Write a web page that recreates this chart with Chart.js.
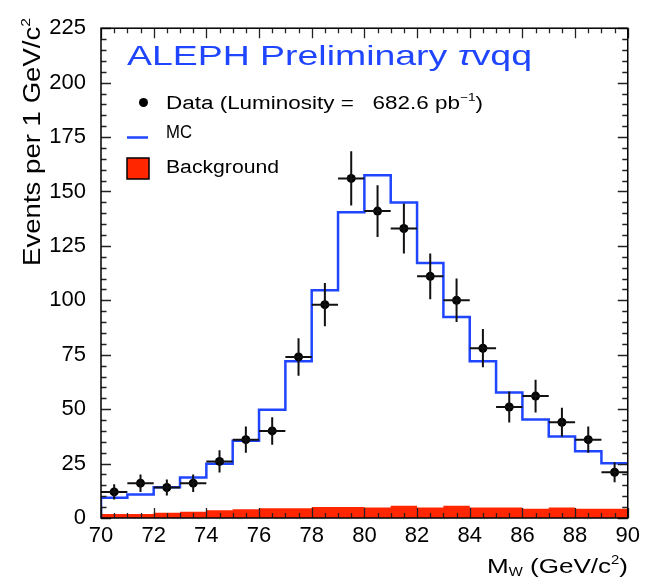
<!DOCTYPE html>
<html>
<head>
<meta charset="utf-8">
<title>ALEPH Preliminary τvqq</title>
<script src="https://cdn.jsdelivr.net/npm/chart.js@4.4.1/dist/chart.umd.min.js"></script>
<style>
  html, body { margin: 0; padding: 0; background: #ffffff; }
  #massChart { display: block; }
</style>
</head>
<body>
<canvas id="massChart" width="645" height="584"></canvas>
<script>
// bin centres (1 GeV/c^2 bins from 70 to 90)
const massBins = [70.5, 71.5, 72.5, 73.5, 74.5, 75.5, 76.5, 77.5, 78.5, 79.5,
                  80.5, 81.5, 82.5, 83.5, 84.5, 85.5, 86.5, 87.5, 88.5, 89.5];
const dataCounts = [12, 16, 14, 16, 26, 36, 40, 74, 98, 156,
                    141, 133, 111, 100, 78, 51, 56, 44, 36, 21];
const dataErrors = [3.5, 4, 3.7, 4, 5.1, 6, 6.3, 8.6, 9.9, 12.5,
                    11.9, 11.5, 10.5, 10, 8.8, 7.1, 7.5, 6.6, 6, 4.6];
const mcCounts = [9.3, 10.8, 14.1, 18.6, 24.9, 35.5, 49.7, 72, 104.6, 140.4,
                  157.4, 144.9, 117.1, 92.3, 72, 57.7, 45.2, 37.4, 30.7, 25.1];
const bkgCounts = [1.8, 1.8, 2.4, 2.9, 3.6, 4.0, 4.5, 4.5, 5.0, 5.0,
                   4.8, 5.6, 4.8, 5.6, 4.8, 4.8, 4.2, 4.8, 4.2, 4.2];
const binWidth = 1;
const xRange = [70, 90];
const yRange = [0, 225];

const FONT = "'Liberation Sans', Arial, sans-serif";
const BLUE = "#1f45ff";
const RED = "#ff2600";

// step outline: point at each upper bin edge; "after" steps rise at the lower edge
function stepPoints(values, startAtZero) {
  const pts = [{ x: massBins[0] - binWidth / 2, y: startAtZero ? 0 : values[0] }];
  values.forEach((v, i) => pts.push({ x: massBins[i] + binWidth / 2, y: v }));
  return pts;
}

// draws a run of text pieces, squeezed/stretched to a given width
function drawPieces(ctx, pieces, x, y, width) {
  let natural = 0;
  pieces.forEach(p => {
    ctx.font = p.font;
    p.w = ctx.measureText(p.text).width;
    natural += p.w;
  });
  const sx = width ? width / natural : 1;
  ctx.save();
  ctx.translate(x, y);
  ctx.scale(sx, 1);
  ctx.textBaseline = "alphabetic";
  ctx.textAlign = "left";
  let cx = 0;
  pieces.forEach(p => {
    ctx.font = p.font;
    ctx.fillText(p.text, cx, p.dy || 0);
    cx += p.w;
  });
  ctx.restore();
}

const errorBars = {
  id: "errorBars",
  afterDatasetsDraw(chart) {
    const { ctx, scales: { x, y } } = chart;
    ctx.save();
    ctx.strokeStyle = "#111";
    ctx.lineWidth = 2;
    massBins.forEach((m, i) => {
      const px = x.getPixelForValue(m);
      const py = y.getPixelForValue(dataCounts[i]);
      ctx.beginPath();
      ctx.moveTo(px, y.getPixelForValue(dataCounts[i] + dataErrors[i]));
      ctx.lineTo(px, y.getPixelForValue(dataCounts[i] - dataErrors[i]));
      ctx.moveTo(x.getPixelForValue(m - binWidth / 2), py);
      ctx.lineTo(x.getPixelForValue(m + binWidth / 2), py);
      ctx.stroke();
    });
    ctx.restore();
  }
};

const frameAndText = {
  id: "frameAndText",
  afterDraw(chart) {
    const { ctx, chartArea: a, scales: { x, y } } = chart;
    ctx.save();

    // inward ticks on all four sides
    ctx.strokeStyle = "#222";
    ctx.lineWidth = 1.3;
    ctx.beginPath();
    for (let v = yRange[0]; v <= yRange[1]; v += 5) {
      const py = Math.round(y.getPixelForValue(v)) + 0.5;
      const len = v % 25 === 0 ? 10 : 5.5;
      ctx.moveTo(a.left, py); ctx.lineTo(a.left + len, py);
      ctx.moveTo(a.right, py); ctx.lineTo(a.right - len, py);
    }
    for (let v = xRange[0]; v <= xRange[1]; v += 0.5) {
      const px = Math.round(x.getPixelForValue(v)) + 0.5;
      const len = v % 2 === 0 ? 10 : 5;
      ctx.moveTo(px, a.bottom); ctx.lineTo(px, a.bottom - len);
      ctx.moveTo(px, a.top); ctx.lineTo(px, a.top + len);
    }
    ctx.stroke();

    // frame
    ctx.strokeStyle = "#000";
    ctx.lineWidth = 1.5;
    ctx.strokeRect(a.left, a.top, a.right - a.left, a.bottom - a.top);

    // title
    ctx.fillStyle = BLUE;
    drawPieces(ctx, [
      { text: "ALEPH Preliminary ", font: `28px ${FONT}` },
      { text: "τ", font: `italic 28px ${FONT}` },
      { text: "vqq", font: `28px ${FONT}` }
    ], 127, 65, 405);

    // legend
    ctx.fillStyle = "#000";
    ctx.beginPath();
    ctx.arc(143.5, 102.5, 4.5, 0, Math.PI * 2);
    ctx.fill();
    drawPieces(ctx, [
      { text: "Data (Luminosity =   682.6 pb", font: `18px ${FONT}` },
      { text: "−1", font: `11px ${FONT}`, dy: -8 },
      { text: ")", font: `18px ${FONT}` }
    ], 166, 109, 317);

    ctx.strokeStyle = BLUE;
    ctx.lineWidth = 2.5;
    ctx.beginPath();
    ctx.moveTo(127, 137.5); ctx.lineTo(148, 137.5);
    ctx.stroke();
    drawPieces(ctx, [{ text: "MC", font: `18px ${FONT}` }], 166, 138, 26);

    ctx.fillStyle = RED;
    ctx.fillRect(127, 158, 22, 21);
    ctx.strokeStyle = "#000";
    ctx.lineWidth = 1.5;
    ctx.strokeRect(127, 158, 22, 21);
    ctx.fillStyle = "#000";
    drawPieces(ctx, [{ text: "Background", font: `18px ${FONT}` }], 166, 173, 113);

    // axis titles
    drawPieces(ctx, [
      { text: "M", font: `21px ${FONT}` },
      { text: "W", font: `12px ${FONT}`, dy: 3 },
      { text: " (GeV/c", font: `21px ${FONT}` },
      { text: "2", font: `12px ${FONT}`, dy: -9 },
      { text: ")", font: `21px ${FONT}` }
    ], 487, 573, 141);

    ctx.save();
    ctx.translate(40, 266);
    ctx.rotate(-Math.PI / 2);
    drawPieces(ctx, [
      { text: "Events per 1 GeV/c", font: `23px ${FONT}` },
      { text: "2", font: `13px ${FONT}`, dy: -10 }
    ], 0, 0, 248);
    ctx.restore();

    ctx.restore();
  }
};

new Chart(document.getElementById("massChart"), {
  type: "line",
  data: {
    datasets: [
      {
        label: "Data",
        data: massBins.map((m, i) => ({ x: m, y: dataCounts[i] })),
        showLine: false,
        pointRadius: 4.5,
        pointBackgroundColor: "#000",
        pointBorderWidth: 0,
        order: 1
      },
      {
        label: "MC",
        data: stepPoints(mcCounts, true),
        stepped: "after",
        borderColor: BLUE,
        borderWidth: 2.5,
        pointRadius: 0,
        fill: false,
        order: 2
      },
      {
        label: "Background",
        data: stepPoints(bkgCounts, false),
        stepped: "after",
        borderWidth: 0,
        backgroundColor: RED,
        pointRadius: 0,
        fill: "origin",
        order: 3
      }
    ]
  },
  options: {
    responsive: false,
    animation: false,
    devicePixelRatio: 1,
    layout: { padding: { left: 0, right: 16, top: 17, bottom: 0 } },
    plugins: {
      legend: { display: false },
      tooltip: { enabled: false }
    },
    scales: {
      x: {
        type: "linear",
        min: xRange[0],
        max: xRange[1],
        grid: { display: false, drawTicks: false },
        border: { display: false },
        ticks: {
          stepSize: 2,
          padding: 5,
          color: "#000",
          font: { family: FONT, size: 22 }
        },
        afterFit(scale) { scale.height = 66; }
      },
      y: {
        min: yRange[0],
        max: yRange[1],
        grid: { display: false, drawTicks: false },
        border: { display: false },
        ticks: {
          stepSize: 25,
          padding: 15,
          color: "#000",
          font: { family: FONT, size: 22 }
        },
        afterFit(scale) { scale.width = 101; }
      }
    }
  },
  plugins: [errorBars, frameAndText]
});
</script>
</body>
</html>
